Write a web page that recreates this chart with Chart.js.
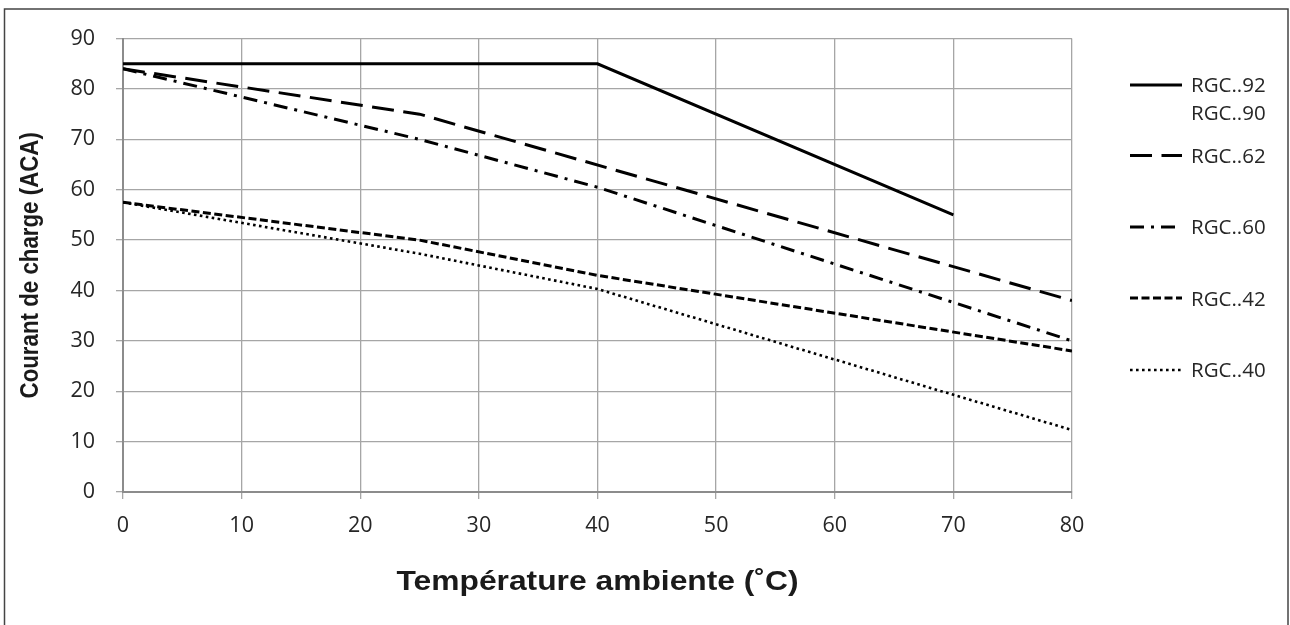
<!DOCTYPE html>
<html>
<head>
<meta charset="utf-8">
<script src="https://cdn.jsdelivr.net/npm/chart.js@4.4.1/dist/chart.umd.min.js"></script>
<style>
  html, body { margin: 0; padding: 0; background: #fff; }
  #wrap { width: 1290px; height: 625px; }
</style>
</head>
<body>
<div id="wrap"><canvas id="derating" width="1290" height="625"></canvas></div>
<script>
// Courbes de déclassement
const temp92 = [0, 40, 70];
const rgc92 = [85, 85, 55];

const temp62 = [0, 25, 80];
const rgc62 = [84, 75, 38];

const temp60 = [0, 25, 40, 80];
const rgc60 = [84, 70, 60.5, 30];

const temp42 = [0, 25, 40, 80];
const rgc42 = [57.5, 50, 43, 28];

const temp40 = [0, 25, 40, 80];
const rgc40 = [57.5, 47.3, 40.3, 12.3];

const labels = [['RGC..92', 'RGC..90'], 'RGC..62', 'RGC..60', 'RGC..42', 'RGC..40'];

const xTitle = 'Température ambiente (˚C)';
const yTitle = 'Courant de charge (ACA)';

function toPoints(xs, ys) {
    return xs.map((x, i) => ({ x: x, y: ys[i] }));
}

// légende dessinée à la main (espacement irrégulier de l'original)
const legendRows = [85, 155.5, 227, 298, 370];
const legendTextBase = [[92.3, 120], [163.3], [234.3], [305.7], [377.3]];

const framePlugin = {
    id: 'frame',
    beforeDraw(chart) {
        const ctx = chart.ctx;
        ctx.save();
        ctx.fillStyle = '#fff';
        ctx.fillRect(0, 0, chart.width, chart.height);
        ctx.strokeStyle = '#444';
        ctx.lineWidth = 1.5;
        ctx.strokeRect(4.5, 9, 1283.5, 630);
        ctx.restore();
    },
    afterDraw(chart) {
        const ctx = chart.ctx;
        const area = chart.chartArea;
        ctx.save();
        ctx.fillStyle = '#1a1a1a';

        // titre axe x (texte étiré horizontalement comme l'original)
        ctx.font = 'bold 28px "Liberation Sans", Arial, sans-serif';
        ctx.textAlign = 'center';
        ctx.textBaseline = 'alphabetic';
        ctx.save();
        ctx.translate((area.left + area.right) / 2, 590);
        ctx.scale(1.135, 1);
        ctx.fillText(xTitle, 0, 0);
        ctx.restore();

        // titre axe y
        ctx.font = 'bold 22.3px "Liberation Sans", Arial, sans-serif';
        ctx.save();
        ctx.translate(37.5, (area.top + area.bottom) / 2);
        ctx.rotate(-Math.PI / 2);
        ctx.scale(1, 1.127);
        ctx.fillText(yTitle, 0, 0);
        ctx.restore();

        // légende
        ctx.font = '20.5px "Open Sans", sans-serif';
        ctx.textAlign = 'left';
        ctx.fillStyle = '#262626';
        chart.data.datasets.forEach((ds, i) => {
            const y = legendRows[i];
            ctx.save();
            ctx.strokeStyle = ds.borderColor;
            ctx.lineWidth = ds.borderWidth;
            ctx.setLineDash(ds.borderDash || []);
            ctx.beginPath();
            ctx.moveTo(1130, y);
            ctx.lineTo(1182, y);
            ctx.stroke();
            ctx.restore();
            const lines = Array.isArray(ds.label) ? ds.label : [ds.label];
            lines.forEach((txt, j) => {
                ctx.fillText(txt, 1191, legendTextBase[i][j]);
            });
        });
        ctx.restore();
    }
};

const gridColor = '#a6a6a6';
const tickFont = { family: '"Open Sans", sans-serif', size: 21.5 };

new Chart(document.getElementById('derating'), {
    type: 'line',
    data: {
        datasets: [
            {
                label: labels[0],
                data: toPoints(temp92, rgc92),
                borderColor: '#000',
                borderWidth: 3,
                borderDash: []
            },
            {
                label: labels[1],
                data: toPoints(temp62, rgc62),
                borderColor: '#000',
                borderWidth: 3,
                borderDash: [22, 9.5]
            },
            {
                label: labels[2],
                data: toPoints(temp60, rgc60),
                borderColor: '#000',
                borderWidth: 3,
                borderDash: [14, 7, 3, 7]
            },
            {
                label: labels[3],
                data: toPoints(temp42, rgc42),
                borderColor: '#000',
                borderWidth: 3,
                borderDash: [8, 3.5]
            },
            {
                label: labels[4],
                data: toPoints(temp40, rgc40),
                borderColor: '#000',
                borderWidth: 2.6,
                borderDash: [2.6, 3.4]
            }
        ]
    },
    options: {
        responsive: false,
        animation: false,
        devicePixelRatio: 1,
        layout: { padding: { left: 0, top: 38.6, right: 218, bottom: 0 } },
        elements: {
            point: { radius: 0, hoverRadius: 0 },
            line: { tension: 0, borderCapStyle: 'butt', borderJoinStyle: 'miter', fill: false }
        },
        plugins: {
            legend: { display: false },
            tooltip: { enabled: false }
        },
        scales: {
            x: {
                type: 'linear',
                min: 0,
                max: 80,
                ticks: {
                    stepSize: 10,
                    padding: 14,
                    color: '#262626',
                    font: tickFont
                },
                grid: { color: gridColor, lineWidth: 1.3, tickLength: 7, tickColor: gridColor },
                border: { color: '#8c8c8c', width: 2 },
                afterFit(scale) { scale.height = 133; }
            },
            y: {
                min: 0,
                max: 90,
                ticks: {
                    stepSize: 10,
                    padding: 21,
                    color: '#262626',
                    font: tickFont
                },
                grid: { color: gridColor, lineWidth: 1.3, tickLength: 7, tickColor: gridColor },
                border: { color: '#8c8c8c', width: 2 },
                afterFit(scale) { scale.width = 123; }
            }
        }
    },
    plugins: [framePlugin]
});
</script>
</body>
</html>
